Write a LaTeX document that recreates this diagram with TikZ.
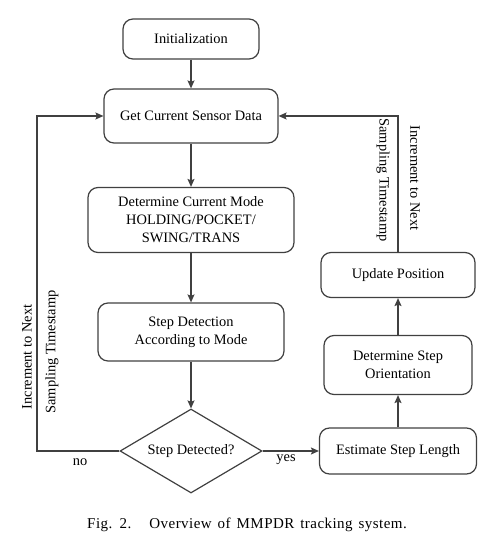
\documentclass[tikz,border=0pt]{standalone}
\usepackage{fontspec}
\setmainfont{Liberation Serif}
\usepackage{tikz}
\usetikzlibrary{arrows.meta}
\usetikzlibrary{positioning,shapes.geometric}
\definecolor{lineg}{RGB}{64,64,64}
\tikzset{
    stepbox/.style={
        draw=lineg,
        rounded corners=10pt,
        line width=1.2pt,
        align=center,
        inner sep=2pt,
        font=\fontsize{14.4}{18}\selectfont
    },
    decision/.style={
        draw=lineg,
        diamond,
        aspect=1.7,
        inner sep=0pt,
        line width=1.2pt,
        minimum width=142pt,
        minimum height=84pt,
        font=\fontsize{14.4}{18}\selectfont
    },
    flow/.style={
        draw=lineg,
        line width=1.2pt,
        -{Stealth[length=8pt, width=7pt, inset=1.5pt]}
    },
    lbl/.style={font=\fontsize{14.4}{18}\selectfont}
}

\begin{document}
\begin{tikzpicture}[x=1pt,y=-1pt]
  \useasboundingbox (0,0) rectangle (483,537);

  % Main column
  \node[stepbox, minimum width=136pt, minimum height=40pt] (init) at (191,39) {Initialization};
  \node[stepbox, minimum width=174pt, minimum height=54pt] (sense) at (191,116) {Get Current Sensor Data};
  \node[stepbox, minimum width=206pt, minimum height=65pt] (mode) at (191,220) {Determine Current Mode\\HOLDING/POCKET/\\SWING/TRANS};
  \node[stepbox, minimum width=186pt, minimum height=58pt] (detect) at (191,332) {Step Detection\\According to Mode};
  \node[decision] (check) at (191,451) {Step Detected?};

  % Right column
  \node[stepbox, minimum width=157pt, minimum height=46pt] (length) at (398,451) {Estimate Step Length};
  \node[stepbox, minimum width=148pt, minimum height=59pt] (orient) at (398,365) {Determine Step\\Orientation};
  \node[stepbox, minimum width=154pt, minimum height=45pt] (update) at (398,275) {Update Position};

  % Edges
  \draw[flow] (init) -- (sense);
  \draw[flow] (sense) -- (mode);
  \draw[flow] (mode) -- (detect);
  \draw[flow] (detect) -- (check);
  \draw[flow] (check) -- (length);
  \draw[flow] (length) -- (orient);
  \draw[flow] (orient) -- (update);
  \draw[flow] (update.north) |- (sense.east);
  \coordinate (lcorner) at (37,451);
  \draw[flow] (check.west) -- (lcorner) |- (sense.west);

  % Labels
  \node[lbl] (no) at (80,462) {no};
  \node[lbl] (yes) at (286,460) {yes};
  \node[lbl, rotate=90] (incl) at (27,357) {Increment to Next};
  \node[lbl, rotate=90] (sampl) at (52,352) {Sampling Timestamp};
  \node[lbl, rotate=-90] (sampr) at (383,180) {Sampling Timestamp};
  \node[lbl, rotate=-90] (incr) at (415,178) {Increment to Next};

  % Caption
  \node[font=\fontsize{15}{18}\selectfont\addfontfeature{LetterSpace=3}] (caption) at (247,525)
    {\spaceskip=6pt Fig. 2.\hspace{18pt}Overview of MMPDR tracking system.};
\end{tikzpicture}
\end{document}
